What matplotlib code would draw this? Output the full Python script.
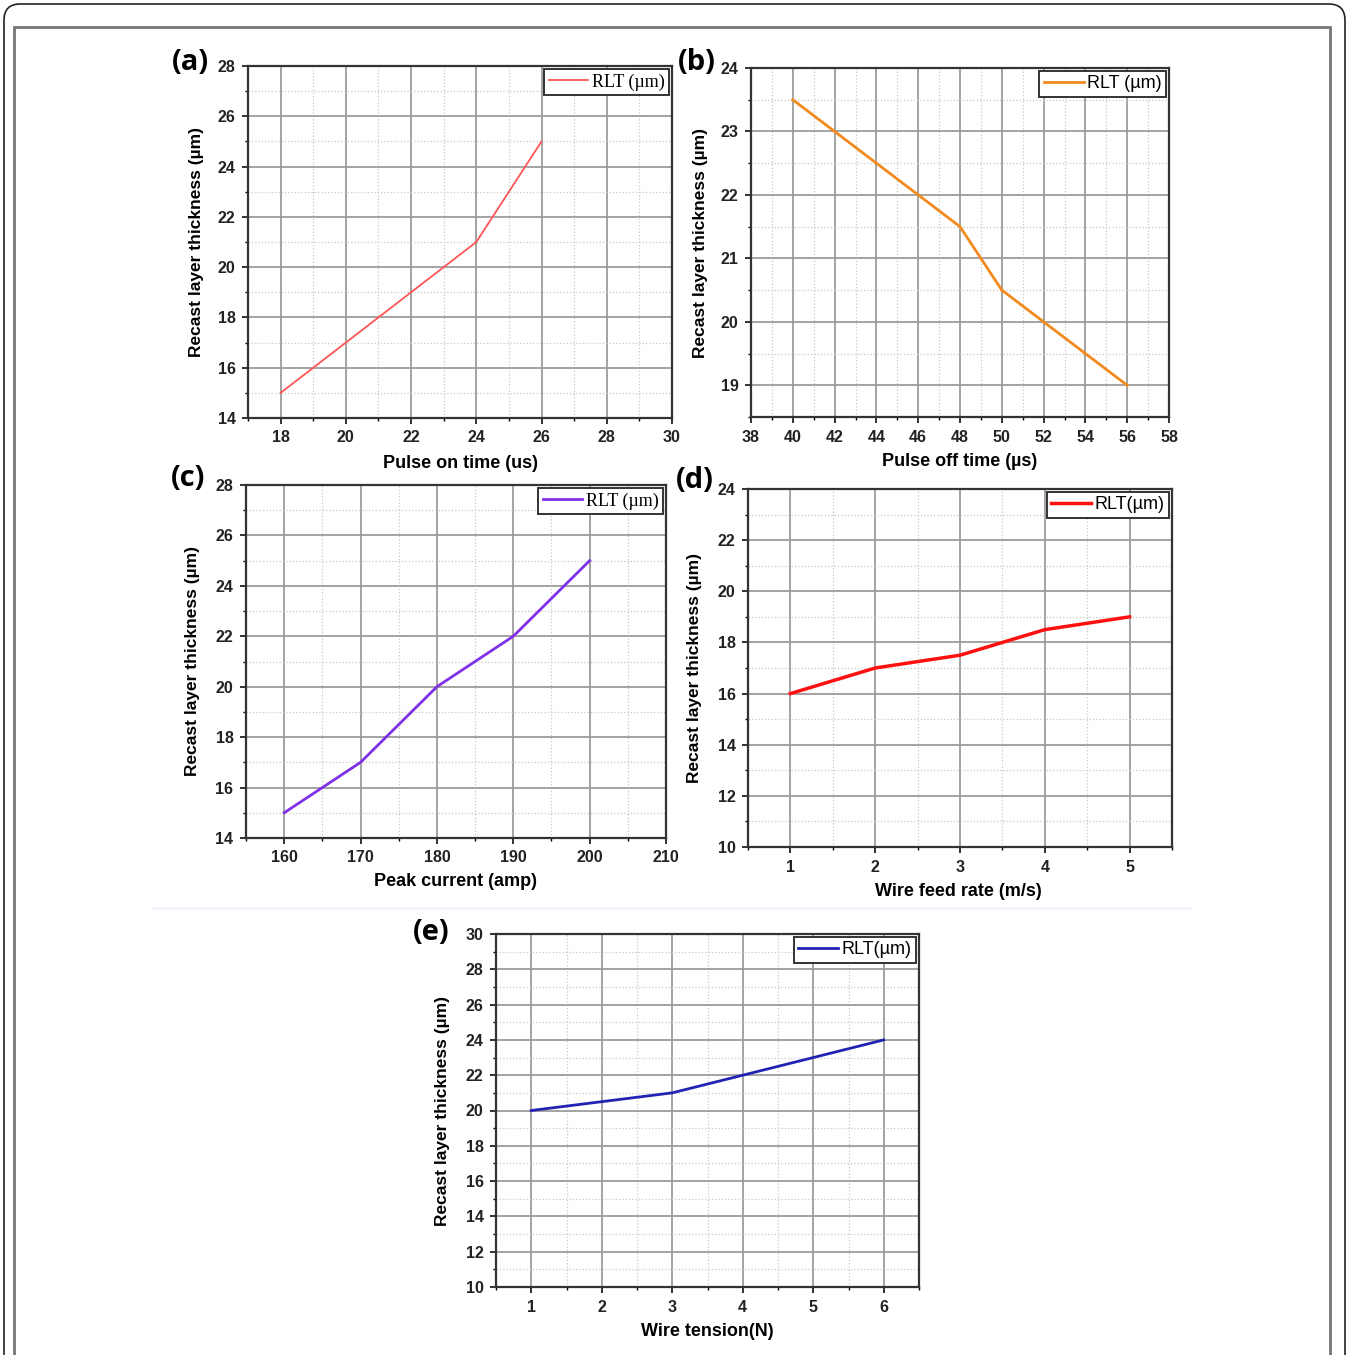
import matplotlib
matplotlib.use('Agg')
import matplotlib.pyplot as plt
from matplotlib.patches import FancyBboxPatch, Rectangle
from matplotlib.ticker import MultipleLocator

# panel data
x_a = [18, 19, 20, 21, 22, 23, 24, 25, 26]
y_a = [15, 16, 17, 18, 19, 20, 21, 23, 25]

x_b = [40, 42, 44, 46, 48, 50, 52, 54, 56]
y_b = [23.5, 23, 22.5, 22, 21.5, 20.5, 20, 19.5, 19]

x_c = [160, 165, 170, 175, 180, 185, 190, 195, 200]
y_c = [15, 16, 17, 18.5, 20, 21, 22, 23.5, 25]

x_d = [1, 2, 3, 3.5, 4, 5]
y_d = [16, 17, 17.5, 18, 18.5, 19]

x_e = [1, 2, 3, 4, 5, 6]
y_e = [20, 20.5, 21, 22, 23, 24]

W, H = 1349, 1355
fig = plt.figure(figsize=(W/100, H/100), dpi=100)

sans = ['Liberation Sans Narrow', 'Liberation Sans', 'DejaVu Sans']
plt.rcParams['font.family'] = sans

# outer frame
fig.patches.append(FancyBboxPatch((4/W, -0.05), (W-8)/W, (H-4)/H + 0.05,
                                  boxstyle='round,pad=0,rounding_size=0.012',
                                  transform=fig.transFigure, fill=False,
                                  edgecolor='#222222', lw=1.2))
fig.patches.append(Rectangle((14/W, -0.05), (1330-14)/W, (H-27)/H + 0.05,
                             transform=fig.transFigure, fill=False,
                             edgecolor='#777777', lw=2))
fig.patches.append(Rectangle((152/W, 1-910/H), (1192-152)/W, 3/H,
                             transform=fig.transFigure, color='#f3f3fa', lw=0))


def px_axes(l, t, r, b):
   return fig.add_axes([l/W, 1-b/H, (r-l)/W, (b-t)/H])


def setup(ax, xlim, ylim, xmaj, ymaj, xlab, lab_xy, ylab_x, tag, tag_xy):
   ax.set_xlim(xlim)
   ax.set_ylim(ylim)
   ax.xaxis.set_major_locator(MultipleLocator(xmaj))
   ax.xaxis.set_minor_locator(MultipleLocator(xmaj/2))
   ax.yaxis.set_major_locator(MultipleLocator(ymaj))
   ax.yaxis.set_minor_locator(MultipleLocator(ymaj/2))
   ax.grid(which='major', color='#9c9c9c', lw=1.3, ls='-')
   ax.grid(which='minor', color='#c8c8c8', lw=0.9, ls=':')
   ax.set_axisbelow(True)
   for s in ax.spines.values():
      s.set_color('#333333')
      s.set_linewidth(1.6)
   ax.tick_params(which='major', direction='out', length=4, width=1.3,
                  labelsize=11.5, pad=5, colors='#222222')
   ax.tick_params(which='minor', direction='out', length=2.5, width=1)
   for lb in ax.get_xticklabels() + ax.get_yticklabels():
      lb.set_fontweight('bold')
   pos = ax.get_position()
   fig.text(lab_xy[0]/W, 1-lab_xy[1]/H, xlab, ha='center', va='center',
            fontsize=13, fontweight='bold')
   fig.text(ylab_x/W, (pos.y0+pos.y1)/2, 'Recast layer thickness (µm)',
            rotation=90, ha='center', va='center', fontsize=12.5,
            fontweight='bold')
   fig.text(tag_xy[0]/W, 1-tag_xy[1]/H, tag, ha='center', va='center',
            fontsize=21, fontweight='bold', family=['Open Sans', 'DejaVu Sans'])


def legend(ax, serif):
   fam = ['Liberation Serif', 'DejaVu Serif'] if serif else ['Liberation Sans', 'DejaVu Sans']
   leg = ax.legend(loc='upper right', frameon=True, fancybox=False,
                   handlelength=2.2, handletextpad=0.2, borderpad=0.25,
                   borderaxespad=0.15, prop={'family': fam, 'size': 13})
   leg.get_frame().set_edgecolor('#333333')
   leg.get_frame().set_linewidth(1.4)
   leg.get_frame().set_alpha(1)


ax = px_axes(248, 66, 672, 418)
ax.plot(x_a, y_a, color='#ff5555', lw=1.3, label='RLT (µm)')
setup(ax, (17, 30), (14, 28), 2, 2, 'Pulse on time (us)', (460, 463), 196, '(a)', (190, 62))
legend(ax, True)

ax = px_axes(751, 68, 1169, 417)
ax.plot(x_b, y_b, color='#f28a1e', lw=2, label='RLT (µm)')
setup(ax, (38, 58), (18.5, 24), 2, 1, 'Pulse off time (µs)', (960, 461), 700, '(b)', (697, 62))
legend(ax, False)

ax = px_axes(246, 485, 666, 838)
ax.plot(x_c, y_c, color='#8030e8', lw=2, label='RLT (µm)')
setup(ax, (155, 210), (14, 28), 10, 2, 'Peak current (amp)', (455, 882), 193, '(c)', (188, 478))
legend(ax, True)

ax = px_axes(748, 489, 1172, 847)
ax.plot(x_d, y_d, color='#ff1010', lw=2.5, label='RLT(µm)')
setup(ax, (0.5, 5.5), (10, 24), 1, 2, 'Wire feed rate (m/s)', (958, 892), 695, '(d)', (695, 480))
legend(ax, False)

ax = px_axes(496, 934, 919, 1287)
ax.plot(x_e, y_e, color='#2222b4', lw=2, label='RLT(µm)')
setup(ax, (0.5, 6.5), (10, 30), 1, 2, 'Wire tension(N)', (707, 1332), 443, '(e)', (431, 932))
legend(ax, False)

fig.savefig('out.png', dpi=100)
